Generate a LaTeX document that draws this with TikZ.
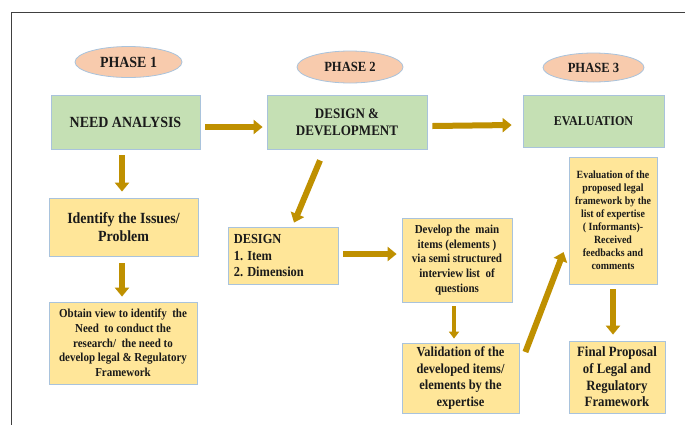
\documentclass[tikz,border=0pt]{standalone}
\usepackage{fontspec}
\setmainfont{Liberation Serif}[FakeStretch=0.9]
\usetikzlibrary{shapes.geometric,arrows.meta}

\definecolor{greenfill}{HTML}{C5E0B4}
\definecolor{yellowfill}{HTML}{FFE699}
\definecolor{peachfill}{HTML}{F8CBAD}
\definecolor{boxedge}{HTML}{A9C3DC}
\definecolor{gold}{HTML}{BF9000}
\definecolor{ink}{HTML}{1A1A1A}

\newcommand{\txtsize}[2]{\fontsize{#1}{#2}\selectfont\bfseries}

\tikzset{
  phase/.style={ellipse, draw=boxedge, line width=0.8pt, fill=peachfill,
    inner sep=0pt, text=ink},
  mainbox/.style={rectangle, draw=boxedge, line width=0.8pt, fill=greenfill,
    inner sep=0pt, align=center, text=ink},
  subbox/.style={rectangle, draw=boxedge, line width=0.8pt, fill=yellowfill,
    inner sep=0pt, align=center, text=ink},
  blk/.style={draw=gold, line width=6pt,
    -{Triangle[width=14pt,length=9pt]}},
  blkthin/.style={draw=gold, line width=3.5pt,
    -{Triangle[width=10pt,length=7pt]}},
}

\begin{document}
\begin{tikzpicture}[x=1pt,y=-1pt]
\useasboundingbox (0,0) rectangle (685,424);
\fill[white] (0,0) rectangle (685,424);

% outer frame (only the top and left edges fall inside the page)
\coordinate (frameBL) at (11,430);
\coordinate (frameTL) at (11,12);
\coordinate (frameTR) at (690,12);
\draw[line width=1pt, draw=black!75] (frameBL) -- (frameTL) -- (frameTR);

% phase labels
\node[phase, minimum width=107pt, minimum height=31pt,
  font={\txtsize{15.5}{18}}] (p1) at (128.5,62) {PHASE 1};
\node[phase, minimum width=106pt, minimum height=32pt,
  font={\txtsize{14}{17}}] (p2) at (350,67) {PHASE 2};
\node[phase, minimum width=101pt, minimum height=29pt,
  font={\txtsize{14}{17}}] (p3) at (593.5,67.5) {PHASE 3};

% main stages
\node[mainbox, minimum width=149pt, minimum height=54pt,
  font={\txtsize{15.5}{18}}] (need) at (125.5,122) {NEED ANALYSIS};
\node[mainbox, minimum width=160pt, minimum height=54pt,
  font={\txtsize{14.5}{17}}] (dd) at (347,122) {DESIGN \&\\DEVELOPMENT};
\node[mainbox, minimum width=141pt, minimum height=52pt,
  font={\txtsize{13.4}{16}}] (eva) at (593.5,121) {EVALUATION};

% phase 1 steps
\node[subbox, minimum width=149pt, minimum height=58pt,
  font={\txtsize{15.5}{18.5}}] (iss) at (123.5,227)
  {Identify the Issues/\\Problem};
\node[subbox, minimum width=148pt, minimum height=82pt,
  font={\txtsize{12.2}{14.7}}] (obt) at (123,343)
  {Obtain view to identify\ \ the\\Need\ \ to conduct the\\
   research/\ \ the need to\\develop legal \& Regulatory\\Framework};

% phase 2 steps
\node[subbox, minimum width=110pt, minimum height=57pt] (des) at (283,255.5) {};
\node[anchor=north west, inner sep=0pt, align=left, text=ink,
  font={\txtsize{13.8}{16.7}}]
  (destext) at ([xshift=6pt,yshift=-7.5pt]des.north west)
  {DESIGN\\1. Item\\2. Dimension};
\node[subbox, minimum width=110pt, minimum height=84pt,
  font={\txtsize{12.2}{14.6}}] (dev) at (457,260)
  {Develop the\ \ main\\items (elements )\\via semi structured\\
   interview list\ \ of\\questions};
\node[subbox, minimum width=117pt, minimum height=70pt,
  font={\txtsize{13.8}{16.7}}] (val) at (460.5,378)
  {Validation of the\\developed items/\\elements by the\\expertise};

% phase 3 steps
\node[subbox, minimum width=88pt, minimum height=127pt,
  font={\txtsize{11}{13}}] (evl) at (613,220.5)
  {Evaluation of the\\proposed legal\\framework by the\\list of expertise\\
   ( Informants)-\\Received\\feedbacks and\\comments};
\node[subbox, minimum width=96pt, minimum height=72pt,
  font={\txtsize{14.2}{16.7}}] (fin) at (617,377)
  {Final Proposal\\of Legal and\\Regulatory\\Framework};

% flow arrows
\draw[blk] ([xshift=5pt,yshift=-5pt]need.east) -- ([xshift=-4pt,yshift=-5pt]dd.west);
\draw[blk] ([xshift=5pt,yshift=-4pt]dd.east) -- ([xshift=-11pt,yshift=-4pt]eva.west);
\draw[blk] ([xshift=-3.5pt,yshift=-6pt]need.south) -- ([xshift=-1.5pt,yshift=6pt]iss.north);
\draw[blk] ([xshift=-1.5pt,yshift=-7pt]iss.south) -- ([xshift=-1pt,yshift=5pt]obt.north);
\draw[blk] ([xshift=-27pt,yshift=-11pt]dd.south) -- ([xshift=11pt,yshift=4pt]des.north);
\draw[blk] ([xshift=5pt,yshift=1.5pt]des.east) -- ([xshift=-5pt,yshift=6pt]dev.west);
\draw[blkthin] ([xshift=-3pt,yshift=-4pt]dev.south) -- ([xshift=-6.5pt,yshift=4pt]val.north);
\draw[blk] ([xshift=6pt,yshift=26pt]val.east) -- ([xshift=-5pt,yshift=-31.5pt]evl.west);
\draw[blk] ([yshift=-5pt]evl.south) -- ([xshift=-4pt,yshift=6pt]fin.north);
\end{tikzpicture}
\end{document}
